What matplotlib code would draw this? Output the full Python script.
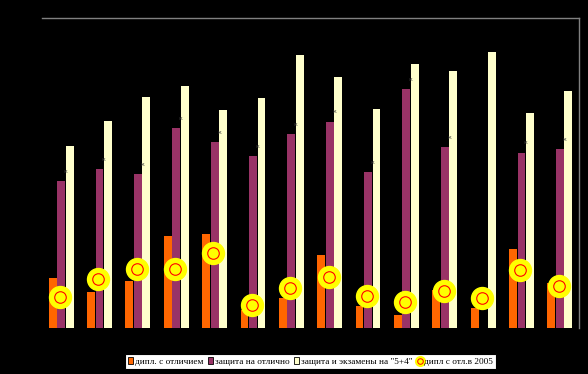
import numpy as np
import matplotlib
matplotlib.use('Agg')
import matplotlib.pyplot as plt
from matplotlib.patches import Patch
from matplotlib.lines import Line2D

# values (arbitrary units, axis 0..100)
groups = np.arange(14)
dipl_otl = [16.1, 11.6, 15.2, 29.7, 30.3, 5.8, 9.7, 23.5, 7.1, 4.2, 12.3, 6.5, 25.5, 14.5]
zashch_otl = [47.4, 51.3, 49.7, 64.5, 60.0, 55.5, 62.6, 66.5, 50.3, 77.1, 58.4, 0, 56.5, 57.7]
zashch_ekz = [58.7, 66.8, 74.5, 78.1, 70.3, 74.2, 88.1, 81.0, 70.6, 85.2, 82.9, 89.0, 69.4, 76.5]
dipl_2005 = [10.1, 15.7, 19.0, 19.0, 24.3, 7.3, 13.0, 16.5, 10.3, 8.3, 11.9, 9.6, 18.7, 13.5]

labels = ['дипл. с отличием', 'защита на отлично',
          'защита и экзамены на "5+4"', 'дипл с отл.в 2005']

c_orange = '#FF6600'
c_purple = '#993366'
c_cream = '#FFFFCC'

fig = plt.figure(figsize=(5.88, 3.74), dpi=100, facecolor='black')
ax = fig.add_axes([42/588, 1-328/374, 537/588, 310/374])
ax.set_facecolor('black')

w = 0.205
off = 0.221
ax.bar(groups - off, dipl_otl, width=w, color=c_orange, zorder=2)
ax.bar(groups, zashch_otl, width=w, color=c_purple, zorder=2)
ax.bar(groups + off, zashch_ekz, width=w, color=c_cream, zorder=2)

# small labels above purple bars
for i, v in zip(groups, zashch_otl):
    if v > 0:
        ax.text(i + 0.11, v + 3.2, 'к', fontsize=4.5, color='#3a3a3a',
                ha='center', va='center', zorder=3)

ax.plot(groups - 0.03, dipl_2005, ls='none', marker='o', ms=15.8,
        mfc='#FFFF00', mec='#FFFF00', zorder=4)
ax.plot(groups - 0.03, dipl_2005, ls='none', marker='o', ms=8.3,
        mfc='none', mec='#FF0000', mew=0.8, zorder=5)

ax.set_xlim(-0.5, 13.5)
ax.set_ylim(0, 100)
ax.set_xticks([])
ax.set_yticks([])
for s in ['left', 'bottom']:
    ax.spines[s].set_visible(False)
for s in ['top', 'right']:
    ax.spines[s].set_color('#808080')
    ax.spines[s].set_linewidth(1)

handles = [Patch(facecolor=c_orange, edgecolor='black', lw=0.6),
           Patch(facecolor=c_purple, edgecolor='black', lw=0.6),
           Patch(facecolor=c_cream, edgecolor='black', lw=0.6),
           (Line2D([], [], ls='none', marker='o', ms=7, mfc='#FFFF00', mec='#FFFF00'),
            Line2D([], [], ls='none', marker='o', ms=4, mfc='none', mec='#FF0000', mew=0.7))]
leg = fig.legend(handles, labels, loc='center', bbox_to_anchor=(310.5/588, 1-361.5/374),
                 ncol=4, frameon=True, fancybox=False, edgecolor='black',
                 facecolor='white', framealpha=1,
                 prop={'family': 'Liberation Serif', 'size': 6.7},
                 handlelength=0.6, handleheight=0.7, handletextpad=0.2,
                 columnspacing=0.45, borderpad=0.3, borderaxespad=0)
leg.get_frame().set_linewidth(0.8)

fig.savefig('out.png', dpi=100, facecolor='black')
